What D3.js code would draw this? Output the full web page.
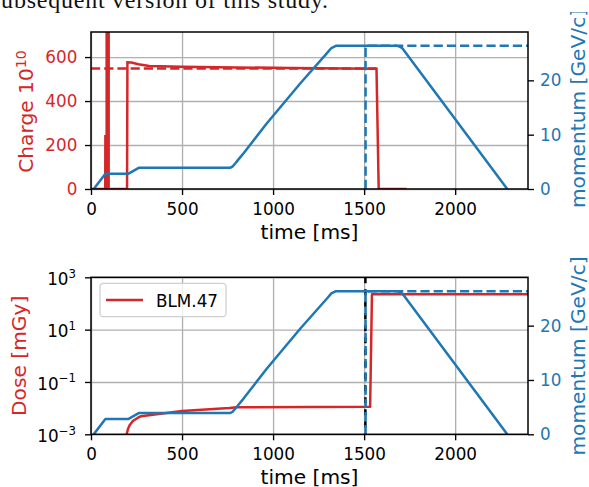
<!DOCTYPE html>
<html lang="en">
<head>
<title>Charge, dose and momentum</title>
<meta charset="utf-8">
<script src="https://d3js.org/d3.v7.min.js"></script>
<style>
	body { margin: 0; background: #fff; }
	text { font-family: "DejaVu Sans", sans-serif; }
</style>
</head>

<body>
<div id="chart"></div>

<script>
	// ---- data ----
	var xTicks = [0, 500, 1000, 1500, 2000];
	var chargeTicks = [0, 200, 400, 600];
	var momTicks = [0, 10, 20];
	var doseTicks = [1e-3, 1e-1, 1e1, 1e3];

	// momentum cycle (GeV/c), same in both panels
	var momT = [15, 79, 204, 262, 764, 778, 792, 810, 838, 900, 966, 1150, 1296, 1320, 1345, 1680, 1695, 1710, 2286];
	var momP = [0, 2.8, 2.8, 3.9, 3.9, 4.15, 4.7, 5.45, 6.57, 9.26, 12.1, 19.47, 25.0, 25.95, 26.35, 26.35, 26.2, 25.9, 0];
	// dashed momentum marker (extraction)
	var momRefT = [1508, 1508, 2400];
	var momRefP = [0, 26.35, 26.35];

	// beam charge (1e10)
	var chargeT = [0, 78, 79, 80, 86, 86, 97, 97, 198, 200, 222, 260, 320, 500, 800, 1100, 1400, 1568, 1580, 1733];
	var chargeQ = [0, 0, 245, 0, 0, 1000, 1000, 0, 0, 576, 575, 567, 559, 556, 553, 550, 548, 547, 0, 0];
	var chargeRefT = [0, 1568];
	var chargeRefQ = [548, 548];

	// BLM.47 dose (mGy)
	var doseT = [196, 203, 212, 230, 260, 275, 500, 760, 800, 1533, 1543, 2400];
	var doseV = [1.0e-3, 1.6e-3, 2.2e-3, 3.2e-3, 4.4e-3, 4.9e-3, 7.8e-3, 1.01e-2, 1.07e-2, 1.12e-2, 224, 224];
	var extractionT = 1507;

	var red = "#d62728", blue = "#1f77b4";
	var tickFont = 16.8, labelFont = 20.2;

	var width = 589, height = 487;
	var left = 91, right = 528;
	var top1 = 32, bot1 = 189, top2 = 277.3, bot2 = 434.3;

	var svg = d3.select("#chart").append("svg")
		.attr("width", width)
		.attr("height", height);

	// text of the paper, cut by the page crop
	svg.append("text")
		.attr("x", -9)
		.attr("y", 7.5)
		.attr("textLength", 337)
		.style("font-family", "'Liberation Serif', serif")
		.style("font-size", "24px")
		.attr("fill", "#111")
		.text("subsequent version of this study.");

	svg.append("defs").append("clipPath").attr("id", "fig")
		.append("rect").attr("x", 0).attr("y", 12).attr("width", width).attr("height", height);
	var fig = svg.append("g").attr("clip-path", "url(#fig)");

	var x = d3.scaleLinear().domain([0, 2400]).range([left, right]);

	function zip(a, b) { return a.map(function(d, i) { return [d, b[i]]; }); }

	function panel(id, top, bot, yLeft) {
		var yMom = d3.scaleLinear().domain([0, 28.9]).range([bot, top]);
		var g = fig.append("g");
		g.append("clipPath").attr("id", "clip" + id)
			.append("rect").attr("x", left).attr("y", top).attr("width", right - left).attr("height", bot - top);

		// grid
		g.append("g").attr("transform", "translate(0," + bot + ")")
			.call(d3.axisBottom(x).tickValues(xTicks).tickSize(-(bot - top)).tickFormat(""))
			.call(function(s) { s.select(".domain").remove(); s.selectAll("line").attr("stroke", "#b0b0b0").attr("stroke-width", 1.35); });
		g.append("g").attr("transform", "translate(" + left + ",0)")
			.call(d3.axisLeft(yLeft).tickValues(id == 1 ? chargeTicks : doseTicks).tickSize(-(right - left)).tickFormat(""))
			.call(function(s) { s.select(".domain").remove(); s.selectAll("line").attr("stroke", "#b0b0b0").attr("stroke-width", 1.35); });

		var plot = g.append("g").attr("clip-path", "url(#clip" + id + ")");
		return { g: g, plot: plot, yMom: yMom };
	}

	function styleTicks(s, color) {
		s.select(".domain").remove();
		s.selectAll("line").attr("stroke", "#000").attr("stroke-width", 1.35);
		s.selectAll("text").attr("fill", color).style("font-size", tickFont + "px");
	}

	function momentum(p) {
		var line = d3.line().x(function(d) { return x(d[0]); }).y(function(d) { return p.yMom(d[1]); });
		p.plot.append("path").datum(zip(momT, momP))
			.attr("d", line).attr("fill", "none").attr("stroke", blue).attr("stroke-width", 2.5).attr("stroke-linejoin", "round");
		p.plot.append("path").datum(zip(momRefT, momRefP))
			.attr("d", line).attr("fill", "none").attr("stroke", blue).attr("stroke-width", 2.5).attr("stroke-dasharray", "9.2,4");
	}

	function frame(p, top, bot, labelY) {
		p.g.append("rect").attr("x", left).attr("y", top).attr("width", right - left).attr("height", bot - top)
			.attr("fill", "none").attr("stroke", "#000").attr("stroke-width", 1.5);
		p.g.append("g").attr("transform", "translate(0," + bot + ")")
			.call(d3.axisBottom(x).tickValues(xTicks).tickFormat(d3.format("d")).tickSize(6).tickPadding(8))
			.call(function(s) { styleTicks(s, "#000"); s.selectAll("text").attr("dy", "0.71em"); });
		p.g.append("g").attr("transform", "translate(" + right + ",0)")
			.call(d3.axisRight(p.yMom).tickValues(momTicks).tickSize(6).tickPadding(6))
			.call(function(s) { styleTicks(s, blue); });
		p.g.append("text")
			.attr("x", (left + right) / 2).attr("y", bot + 49.5)
			.attr("text-anchor", "middle").style("font-size", labelFont + "px")
			.text("time [ms]");
		p.g.append("text")
			.attr("transform", "translate(585," + labelY + ") rotate(-90)")
			.attr("text-anchor", "middle").attr("fill", blue).style("font-size", labelFont + "px")
			.text("momentum [GeV/c]");
	}

	// ---- top panel: charge ----
	var yQ = d3.scaleLinear().domain([0, 714]).range([bot1, top1]);
	var p1 = panel(1, top1, bot1, yQ);
	var qLine = d3.line().x(function(d) { return x(d[0]); }).y(function(d) { return yQ(d[1]); });
	p1.plot.append("path").datum(zip(chargeRefT, chargeRefQ))
		.attr("d", qLine).attr("fill", "none").attr("stroke", red).attr("stroke-width", 2.5).attr("stroke-dasharray", "9.2,4");
	p1.plot.append("path").datum(zip(chargeT, chargeQ))
		.attr("d", qLine).attr("fill", "none").attr("stroke", red).attr("stroke-width", 2.5);
	momentum(p1);
	p1.g.append("g").attr("transform", "translate(" + left + ",0)")
		.call(d3.axisLeft(yQ).tickValues(chargeTicks).tickSize(6).tickPadding(7.7))
		.call(function(s) { styleTicks(s, red); });
	frame(p1, top1, bot1, 108.5);
	var cl = p1.g.append("text")
		.attr("transform", "translate(32.5," + ((top1 + bot1) / 2 + 1) + ") rotate(-90)")
		.attr("text-anchor", "middle").attr("fill", red).style("font-size", labelFont + "px");
	cl.append("tspan").text("Charge 10");
	cl.append("tspan").attr("dy", "-0.45em").style("font-size", (labelFont * 0.7) + "px").text("10");

	// ---- bottom panel: dose ----
	var yD = d3.scaleLog().domain([1e-3, 1e3]).range([bot2, top2]);
	var p2 = panel(2, top2, bot2, yD);
	var dLine = d3.line().x(function(d) { return x(d[0]); }).y(function(d) { return yD(d[1]); });
	p2.plot.append("path").datum(zip(doseT, doseV))
		.attr("d", dLine).attr("fill", "none").attr("stroke", red).attr("stroke-width", 2.5).attr("stroke-linejoin", "round");
	p2.plot.append("line")
		.attr("x1", x(extractionT)).attr("x2", x(extractionT)).attr("y1", top2).attr("y2", bot2)
		.attr("stroke", "#000").attr("stroke-width", 2.5).attr("stroke-dasharray", "6,6");
	momentum(p2);
	p2.g.append("g").attr("transform", "translate(" + left + ",0)")
		.call(d3.axisLeft(yD).tickValues(doseTicks).tickSize(6).tickPadding(9))
		.call(function(s) {
			styleTicks(s, "#000");
			s.selectAll("text").attr("dy", "0.42em").text(null).each(function(d) {
				var t = d3.select(this), e = Math.round(Math.log10(d));
				t.append("tspan").text("10");
				t.append("tspan").attr("dy", "-0.6em").style("font-size", (tickFont * 0.7) + "px")
					.text(e < 0 ? "\u2212" + (-e) : String(e));
			});
		});
	frame(p2, top2, bot2, 356);
	p2.g.append("text")
		.attr("transform", "translate(25.5," + (top2 + bot2) / 2 + ") rotate(-90)")
		.attr("text-anchor", "middle").attr("fill", red).style("font-size", labelFont + "px")
		.text("Dose [mGy]");

	// legend
	var lg = p2.g.append("g");
	lg.append("rect").attr("x", 100).attr("y", 283.3).attr("width", 126).attr("height", 33.4).attr("rx", 3.5)
		.attr("fill", "#fff").attr("fill-opacity", 0.8).attr("stroke", "#d0d0d0").attr("stroke-width", 1.3);
	lg.append("line").attr("x1", 106).attr("x2", 143).attr("y1", 300).attr("y2", 300)
		.attr("stroke", red).attr("stroke-width", 2.5);
	lg.append("text").attr("x", 156).attr("y", 306.5).style("font-size", tickFont + "px").text("BLM.47");
</script>

</body>
</html>
